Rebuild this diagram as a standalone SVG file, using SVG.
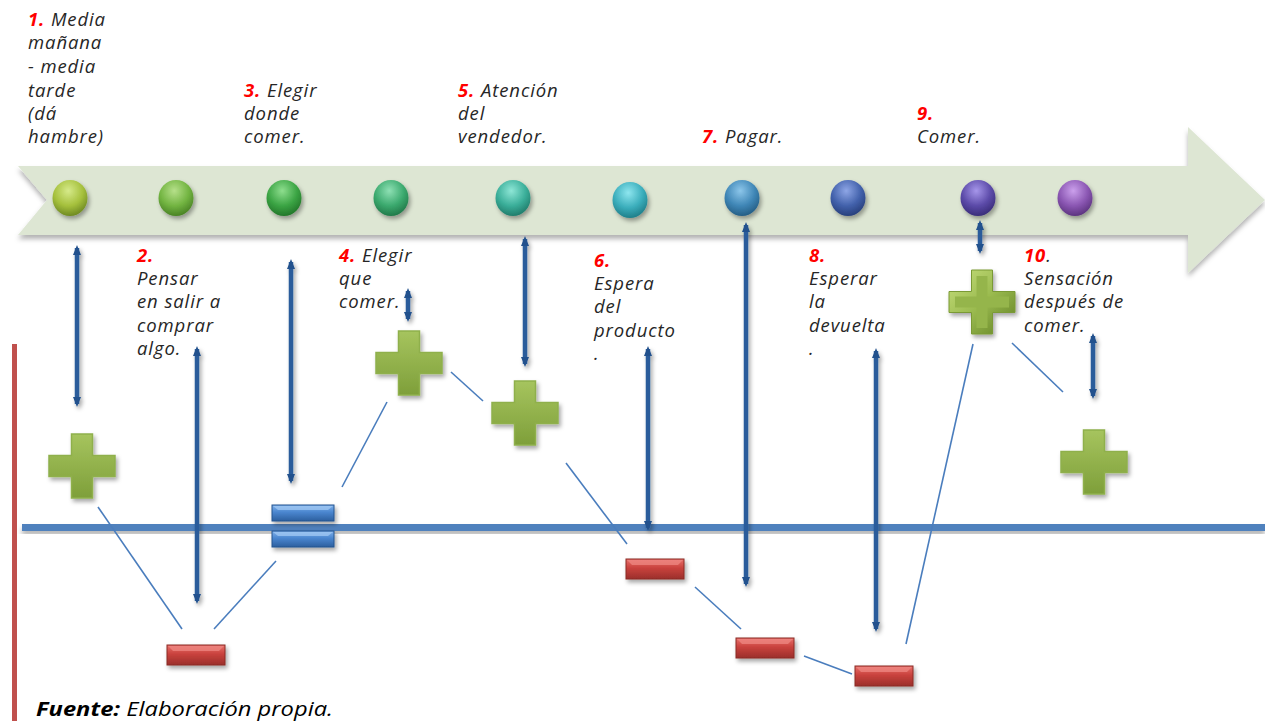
<svg xmlns="http://www.w3.org/2000/svg" width="1265" height="721" viewBox="0 0 1265 721">
<defs>
<style>
.t{font-family:"Open Sans","Liberation Sans",sans-serif;font-style:italic;font-size:18.5px;letter-spacing:0.9px;fill:#262626}
.n{fill:#ff0000;font-weight:bold}
.f{font-family:"Open Sans","Liberation Sans",sans-serif;font-style:italic;font-size:20px;fill:#000}
.ln{stroke:#4a7dbd;stroke-width:1.6;fill:none}
.ar{stroke:#2b5b9b;stroke-width:4.5;fill:none}
</style>
<filter id="sh" x="-20%" y="-20%" width="150%" height="160%"><feDropShadow dx="2" dy="3" stdDeviation="2" flood-color="#000" flood-opacity="0.35"/></filter>
<filter id="sh2" x="-5%" y="-20%" width="110%" height="150%"><feDropShadow dx="0" dy="4" stdDeviation="2.5" flood-color="#000" flood-opacity="0.3"/></filter>
<marker id="ah" viewBox="0 0 10 8" refX="7" refY="4" markerWidth="10" markerHeight="8" markerUnits="userSpaceOnUse" orient="auto-start-reverse"><path d="M0,0 L10,4 L0,8 Z" fill="#23518d"/></marker>
<linearGradient id="gp" x1="0" y1="0" x2="0" y2="1"><stop offset="0" stop-color="#a6c45e"/><stop offset="1" stop-color="#7e9f3a"/></linearGradient>
<linearGradient id="gpb" x1="0" y1="0" x2="1" y2="1"><stop offset="0" stop-color="#c8e07e"/><stop offset="0.5" stop-color="#9bbb50"/><stop offset="1" stop-color="#5f7f22"/></linearGradient>
<linearGradient id="gr" x1="0" y1="0" x2="0" y2="1"><stop offset="0" stop-color="#e8706b"/><stop offset="0.45" stop-color="#c9423d"/><stop offset="1" stop-color="#9b2f2b"/></linearGradient>
<linearGradient id="gb" x1="0" y1="0" x2="0" y2="1"><stop offset="0" stop-color="#7fb0ea"/><stop offset="0.45" stop-color="#4a86cf"/><stop offset="1" stop-color="#2c5f9f"/></linearGradient>
<radialGradient id="c1" cx="0.45" cy="0.3" r="0.7"><stop offset="0" stop-color="#d6ea8a"/><stop offset="0.6" stop-color="#a5c03c"/><stop offset="1" stop-color="#6f8a23"/></radialGradient>
<radialGradient id="c2" cx="0.45" cy="0.3" r="0.7"><stop offset="0" stop-color="#b6e08a"/><stop offset="0.6" stop-color="#72b441"/><stop offset="1" stop-color="#4a8325"/></radialGradient>
<radialGradient id="c3" cx="0.45" cy="0.3" r="0.7"><stop offset="0" stop-color="#8ede8e"/><stop offset="0.6" stop-color="#3ba444"/><stop offset="1" stop-color="#23772a"/></radialGradient>
<radialGradient id="c4" cx="0.45" cy="0.3" r="0.7"><stop offset="0" stop-color="#8ee0b4"/><stop offset="0.6" stop-color="#3ba96e"/><stop offset="1" stop-color="#227a4a"/></radialGradient>
<radialGradient id="c5" cx="0.45" cy="0.3" r="0.7"><stop offset="0" stop-color="#8ee6d6"/><stop offset="0.6" stop-color="#3aae99"/><stop offset="1" stop-color="#217d6c"/></radialGradient>
<radialGradient id="c6" cx="0.45" cy="0.3" r="0.7"><stop offset="0" stop-color="#8ee6ef"/><stop offset="0.6" stop-color="#3aadbb"/><stop offset="1" stop-color="#207f8a"/></radialGradient>
<radialGradient id="c7" cx="0.45" cy="0.3" r="0.7"><stop offset="0" stop-color="#8cc6ea"/><stop offset="0.6" stop-color="#3f86b6"/><stop offset="1" stop-color="#255e85"/></radialGradient>
<radialGradient id="c8" cx="0.45" cy="0.3" r="0.7"><stop offset="0" stop-color="#8ea6e6"/><stop offset="0.6" stop-color="#4261ab"/><stop offset="1" stop-color="#28407c"/></radialGradient>
<radialGradient id="c9" cx="0.45" cy="0.3" r="0.7"><stop offset="0" stop-color="#a696ea"/><stop offset="0.6" stop-color="#5b4aa8"/><stop offset="1" stop-color="#3a2d7a"/></radialGradient>
<radialGradient id="c10" cx="0.45" cy="0.3" r="0.7"><stop offset="0" stop-color="#cba0ec"/><stop offset="0.6" stop-color="#8a56b2"/><stop offset="1" stop-color="#5d3480"/></radialGradient>
<path id="plus" d="M-10.5,-32 H10.5 V-10.5 H33 V10.5 H10.5 V32 H-10.5 V10.5 H-33 V-10.5 H-10.5 Z"/>
<path id="plusin" d="M-5.5,-26 H5.5 V-5.5 H27 V5.5 H5.5 V26 H-5.5 V5.5 H-27 V-5.5 H-5.5 Z"/>
<g id="minus"><rect x="-29" y="-10" width="58" height="20" fill="url(#gr)" stroke="#8a2a26" stroke-width="1"/><path d="M-28,-9 H28 L23,-4 H-23 Z" fill="#f08a85" opacity="0.7"/></g>
<g id="eqbar"><rect x="-31" y="-8" width="62" height="16" fill="url(#gb)" stroke="#24548f" stroke-width="1"/><path d="M-30,-7 H30 L25,-3 H-25 Z" fill="#a5ccf5" opacity="0.7"/></g>
</defs>

<rect width="1265" height="721" fill="#ffffff"/>

<g id="banner" filter="url(#sh2)">
<path d="M18,166 H1188 V127 L1265,200 L1188,273 V235 H18 L47,200 Z" fill="#dde6d3"/>
</g>

<g id="axes">
<rect x="22" y="524" width="1243" height="7" fill="#4f81bd" filter="url(#sh2)"/>
<rect x="12" y="344" width="5" height="377" fill="#c0504d"/>
</g>

<g id="circles" filter="url(#sh)">
<ellipse cx="70" cy="198" rx="17.5" ry="18" fill="url(#c1)"/>
<ellipse cx="176" cy="198" rx="17.5" ry="18" fill="url(#c2)"/>
<ellipse cx="284" cy="198" rx="17.5" ry="18" fill="url(#c3)"/>
<ellipse cx="391" cy="198" rx="17.5" ry="18" fill="url(#c4)"/>
<ellipse cx="513" cy="198" rx="17.5" ry="18" fill="url(#c5)"/>
<ellipse cx="630" cy="200" rx="17.5" ry="18" fill="url(#c6)"/>
<ellipse cx="742" cy="198" rx="17.5" ry="18" fill="url(#c7)"/>
<ellipse cx="848" cy="198" rx="17.5" ry="18" fill="url(#c8)"/>
<ellipse cx="978" cy="198" rx="17.5" ry="18" fill="url(#c9)"/>
<ellipse cx="1075" cy="198" rx="17.5" ry="18" fill="url(#c10)"/>
</g>

<g id="connectors">
<line class="ln" x1="98" y1="507" x2="182" y2="629"/>
<line class="ln" x1="214" y1="629" x2="276" y2="561"/>
<line class="ln" x1="342" y1="487" x2="387" y2="402"/>
<line class="ln" x1="451" y1="372" x2="483" y2="401"/>
<line class="ln" x1="566" y1="463" x2="627" y2="544"/>
<line class="ln" x1="695" y1="587" x2="741" y2="629"/>
<line class="ln" x1="804" y1="656" x2="852" y2="674"/>
<line class="ln" x1="906" y1="644" x2="973" y2="344"/>
<line class="ln" x1="1012" y1="343" x2="1063" y2="392"/>
<g filter="url(#sh)">
<line class="ar" x1="77" y1="248" x2="77" y2="404" marker-start="url(#ah)" marker-end="url(#ah)"/>
<line class="ar" x1="197" y1="349" x2="197" y2="601" marker-start="url(#ah)" marker-end="url(#ah)"/>
<line class="ar" x1="291" y1="262" x2="291" y2="481" marker-start="url(#ah)" marker-end="url(#ah)"/>
<line class="ar" x1="408" y1="291" x2="408" y2="319" marker-start="url(#ah)" marker-end="url(#ah)"/>
<line class="ar" x1="525" y1="239" x2="525" y2="364" marker-start="url(#ah)" marker-end="url(#ah)"/>
<line class="ar" x1="648" y1="349" x2="648" y2="528" marker-start="url(#ah)" marker-end="url(#ah)"/>
<line class="ar" x1="746" y1="225" x2="746" y2="584" marker-start="url(#ah)" marker-end="url(#ah)"/>
<line class="ar" x1="876" y1="351" x2="876" y2="629" marker-start="url(#ah)" marker-end="url(#ah)"/>
<line class="ar" x1="980" y1="223" x2="980" y2="251" marker-start="url(#ah)" marker-end="url(#ah)"/>
<line class="ar" x1="1093" y1="336" x2="1093" y2="396" marker-start="url(#ah)" marker-end="url(#ah)"/>
</g>
</g>

<g id="plus1" filter="url(#sh)"><use href="#plus" x="82" y="466" fill="url(#gp)" stroke="#8fb04c" stroke-width="1.5"/></g>
<g id="plus2" filter="url(#sh)"><use href="#plus" x="409" y="363" fill="url(#gp)" stroke="#8fb04c" stroke-width="1.5"/></g>
<g id="plus3" filter="url(#sh)"><use href="#plus" x="525" y="413" fill="url(#gp)" stroke="#8fb04c" stroke-width="1.5"/></g>
<g id="plus4" filter="url(#sh)">
<use href="#plus" x="982" y="302" fill="url(#gpb)" stroke="#7a9a35" stroke-width="1"/>
<use href="#plusin" x="982" y="302" fill="#95b54b"/>
</g>
<g id="plus5" filter="url(#sh)"><use href="#plus" x="1094" y="462" fill="url(#gp)" stroke="#8fb04c" stroke-width="1.5"/></g>

<g id="minus1" filter="url(#sh)"><use href="#minus" x="196" y="655"/></g>
<g id="minus2" filter="url(#sh)"><use href="#minus" x="655" y="569"/></g>
<g id="minus3" filter="url(#sh)"><use href="#minus" x="765" y="648"/></g>
<g id="minus4" filter="url(#sh)"><use href="#minus" x="884" y="676"/></g>
<g id="equals" filter="url(#sh)"><use href="#eqbar" x="303" y="513"/><use href="#eqbar" x="303" y="539"/></g>

<g id="label1" class="t">
<text x="28" y="26"><tspan class="n">1.</tspan> Media</text>
<text x="28" y="49">mañana</text>
<text x="28" y="73">- media</text>
<text x="28" y="97">tarde</text>
<text x="28" y="120">(dá</text>
<text x="28" y="143">hambre)</text>
</g>
<g id="label2" class="t">
<text x="137" y="262"><tspan class="n">2.</tspan></text>
<text x="137" y="285">Pensar</text>
<text x="137" y="308">en salir a</text>
<text x="137" y="332">comprar</text>
<text x="137" y="355">algo.</text>
</g>
<g id="label3" class="t">
<text x="244" y="97"><tspan class="n">3.</tspan> Elegir</text>
<text x="244" y="120">donde</text>
<text x="244" y="143">comer.</text>
</g>
<g id="label4" class="t">
<text x="339" y="262"><tspan class="n">4.</tspan> Elegir</text>
<text x="339" y="285">que</text>
<text x="339" y="308">comer.</text>
</g>
<g id="label5" class="t">
<text x="458" y="97"><tspan class="n">5.</tspan> Atención</text>
<text x="458" y="120">del</text>
<text x="458" y="143">vendedor.</text>
</g>
<g id="label6" class="t">
<text x="594" y="267"><tspan class="n">6.</tspan></text>
<text x="594" y="290">Espera</text>
<text x="594" y="313">del</text>
<text x="594" y="337">producto</text>
<text x="594" y="360">.</text>
</g>
<g id="label7" class="t">
<text x="702" y="143"><tspan class="n">7.</tspan> Pagar.</text>
</g>
<g id="label8" class="t">
<text x="809" y="262"><tspan class="n">8.</tspan></text>
<text x="809" y="285">Esperar</text>
<text x="809" y="308">la</text>
<text x="809" y="332">devuelta</text>
<text x="809" y="355">.</text>
</g>
<g id="label9" class="t">
<text x="917" y="120"><tspan class="n">9.</tspan></text>
<text x="917" y="143">Comer.</text>
</g>
<g id="label10" class="t">
<text x="1024" y="262"><tspan class="n">10</tspan>.</text>
<text x="1024" y="285">Sensación</text>
<text x="1024" y="308">después de</text>
<text x="1024" y="332">comer.</text>
</g>
<g id="source">
<text class="f" x="36" y="716" textLength="297" lengthAdjust="spacingAndGlyphs"><tspan font-weight="bold">Fuente:</tspan> Elaboración propia.</text>
</g>
</svg>
